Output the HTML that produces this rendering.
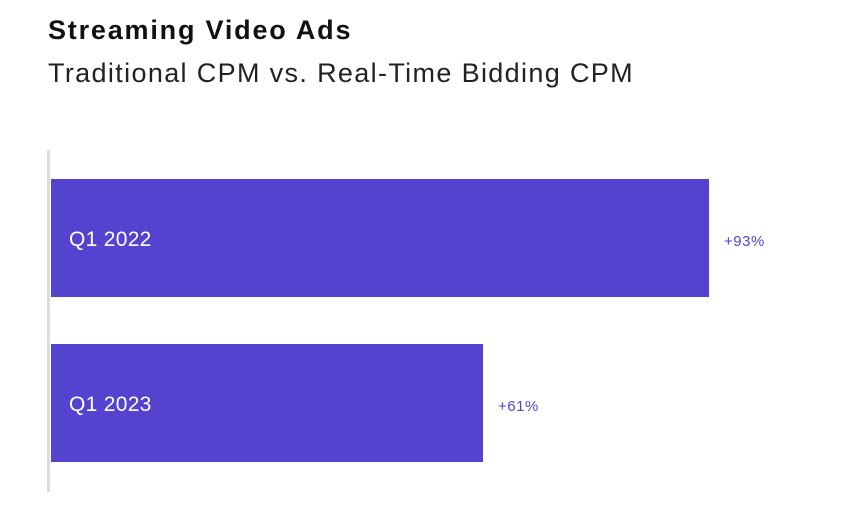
<!DOCTYPE html>
<html><head><style>
body{margin:0;width:864px;height:508px;background:#fff;position:relative;overflow:hidden;font-family:"Liberation Sans",sans-serif}
div{position:absolute}
.t{left:48px;top:15px;font-size:27px;font-weight:bold;color:#111;letter-spacing:1.8px}
.s{left:48px;top:58px;font-size:27px;color:#222;letter-spacing:1.35px}
.ax{left:47px;top:150px;width:3px;height:342px;background:#ddd}
.b{left:51px;background:#5343cf;color:#fff;font-size:21px;line-height:122px;padding-left:18px;box-sizing:border-box;letter-spacing:0.3px}
.v{color:#5343cf;font-size:15px;letter-spacing:0.5px}
</style></head><body>
<div class="t">Streaming Video Ads</div>
<div class="s">Traditional CPM vs. Real-Time Bidding CPM</div>
<div class="ax"></div>
<div class="b" style="top:179px;width:658px;height:118px">Q1 2022</div>
<div class="v" style="left:724px;top:233px">+93%</div>
<div class="b" style="top:344px;width:432px;height:118px">Q1 2023</div>
<div class="v" style="left:498px;top:398px">+61%</div>
</body></html>
